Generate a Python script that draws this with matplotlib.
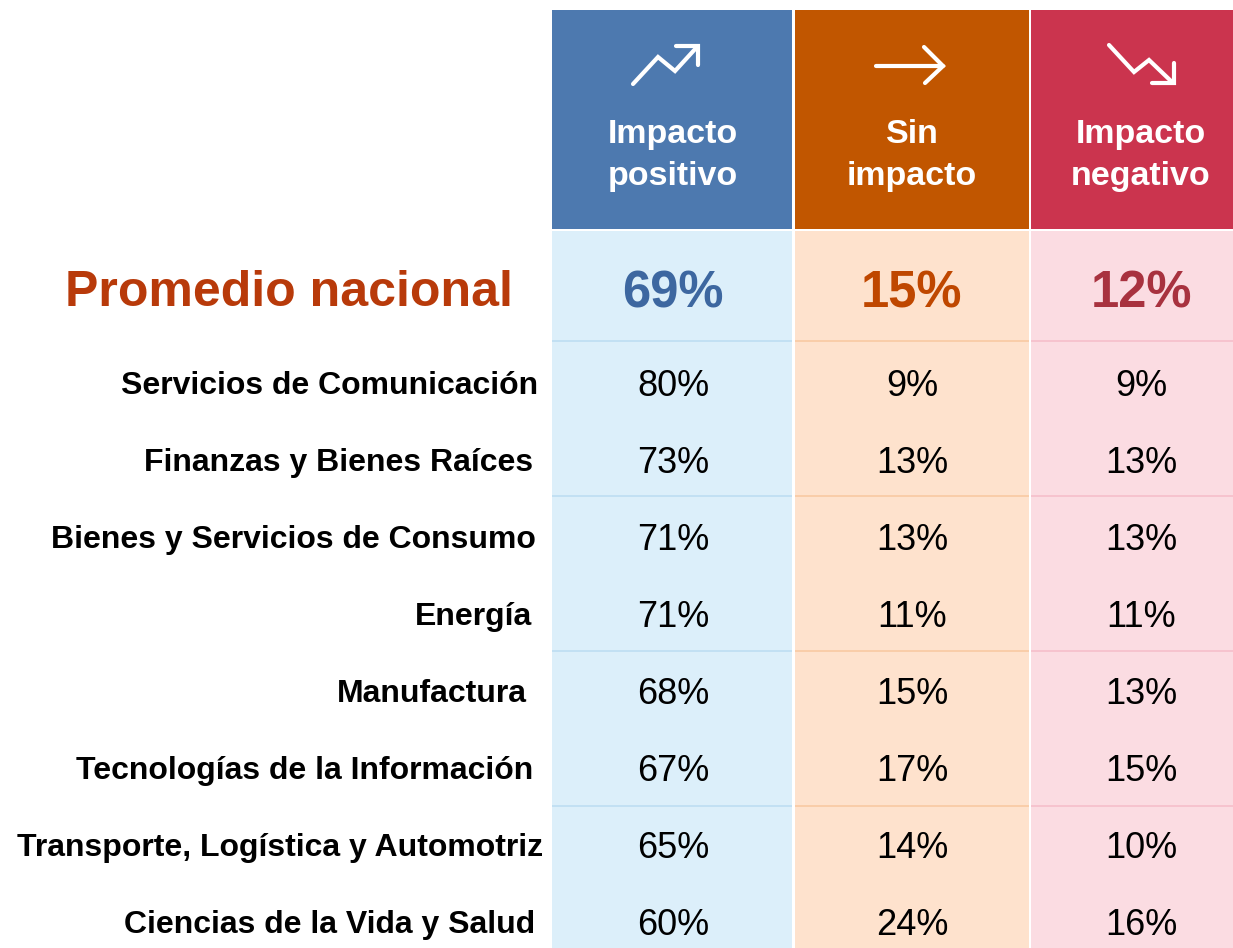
import matplotlib
matplotlib.use("Agg")
import matplotlib.pyplot as plt
from matplotlib.patches import Rectangle

plt.rcParams['font.family'] = ['Liberation Sans', 'DejaVu Sans']

# ---- data ----
categories = [
    "Servicios de Comunicación",
    "Finanzas y Bienes Raíces",
    "Bienes y Servicios de Consumo",
    "Energía",
    "Manufactura",
    "Tecnologías de la Información",
    "Transporte, Logística y Automotriz",
    "Ciencias de la Vida y Salud",
]
positivo = [80, 73, 71, 71, 68, 67, 65, 60]
sin_impacto = [9, 13, 13, 11, 15, 17, 14, 24]
negativo = [9, 13, 13, 11, 13, 15, 10, 16]
promedio = [69, 15, 12]
promedio_label = "Promedio nacional"
header_line1 = ["Impacto", "Sin", "Impacto"]
header_line2 = ["positivo", "impacto", "negativo"]

# ---- style / layout ----
W, H = 1233, 948
col_x = [(552, 792), (795, 1029), (1031, 1233)]
centers = [673, 912, 1141]
label_right = [538, 533, 536, 532, 527, 533, 543, 535]
head_col = ["#4D79AF", "#C15600", "#CB344E"]
body_col = ["#DCEFFA", "#FEE2CD", "#FBDCE2"]
sep_col = ["#BDDDF2", "#F9C9A2", "#F5BFCB"]
avg_col = ["#3D67A0", "#BF4700", "#A8323F"]
label_col = "#B83A0A"

fig = plt.figure(figsize=(W / 100, H / 100), dpi=100)
ax = fig.add_axes([0, 0, 1, 1])
ax.set_xlim(0, W)
ax.set_ylim(H, 0)
ax.axis("off")

head_top, head_bot, body_top = 10, 229, 231
for (x0, x1), hc, bc, sc in zip(col_x, head_col, body_col, sep_col):
    ax.add_patch(Rectangle((x0, head_top), x1 - x0, head_bot - head_top, color=hc, lw=0))
    ax.add_patch(Rectangle((x0, body_top), x1 - x0, H - body_top, color=bc, lw=0))
    for ys in [341, 496, 651, 806]:
        ax.plot([x0, x1], [ys, ys], color=sc, lw=1.2, solid_capstyle="butt")

# header texts
for cx, l1, l2 in zip(centers, header_line1, header_line2):
    ax.text(cx, 143, l1, ha="center", va="baseline", color="white",
            fontsize=24.5, fontweight="bold")
    ax.text(cx, 185, l2, ha="center", va="baseline", color="white",
            fontsize=24.5, fontweight="bold")

# icons
lw = 3.0
kw = dict(color="white", lw=lw, solid_capstyle="round", solid_joinstyle="miter")
ax.plot([633, 658, 675, 697], [84, 57, 71, 47], **kw)
ax.plot([676, 698, 698], [46, 46, 65], **kw)
ax.plot([876, 943], [66, 66], **kw)
ax.plot([924, 943, 925], [47, 66, 83], **kw)
ax.plot([1109, 1134, 1149, 1172], [45, 72, 60, 82], **kw)
ax.plot([1174, 1174, 1152], [63, 83, 83], **kw)

# promedio row
ax.text(513, 306, promedio_label, ha="right", va="baseline", color=label_col,
        fontsize=36, fontweight="bold")
for cx, v, c in zip(centers, promedio, avg_col):
    ax.text(cx, 307, f"{v}%", ha="center", va="baseline", color=c,
            fontsize=36.5, fontweight="bold")

# body rows
for i, cat in enumerate(categories):
    y = 383 + i * 77
    ax.text(label_right[i], y + 11, cat, ha="right", va="baseline", color="black",
            fontsize=23, fontweight="bold")
    for cx, vals in zip(centers, [positivo, sin_impacto, negativo]):
        ax.text(cx, y + 13, f"{vals[i]}%", ha="center", va="baseline",
                color="black", fontsize=26)

fig.savefig("out.png", dpi=100, facecolor="white")
